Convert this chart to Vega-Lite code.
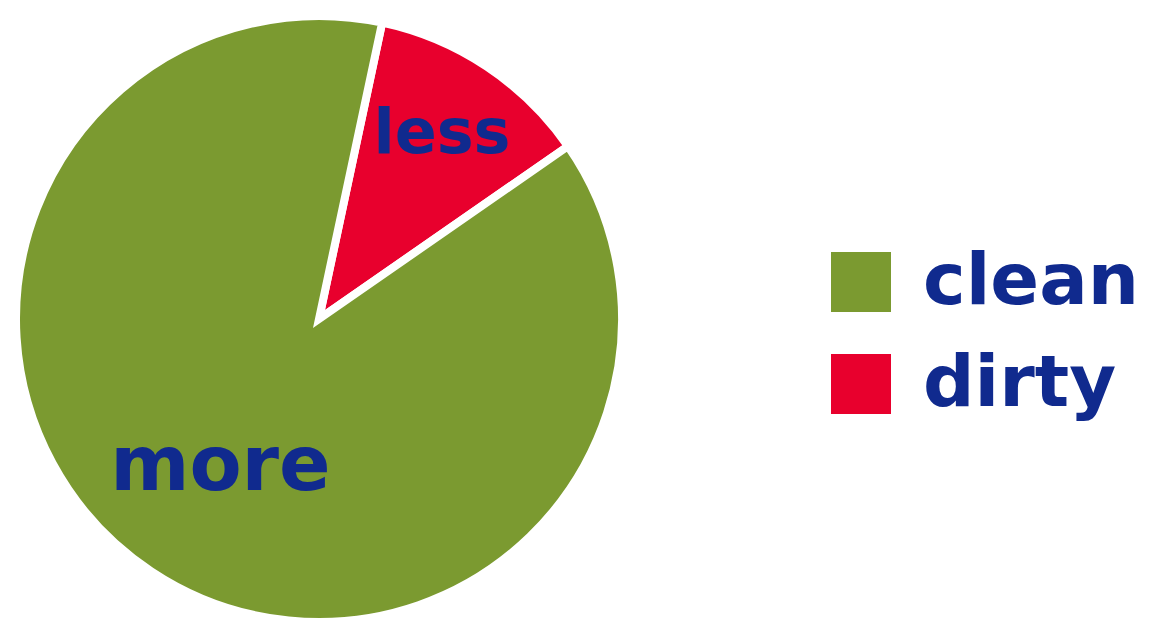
{
  "$schema": "https://vega.github.io/schema/vega-lite/v6.json",
  "width": 632,
  "height": 636,
  "padding": 0,
  "autosize": {"type": "pad"},
  "background": "white",
  "view": {"stroke": null},
  "data": {"values": [
    {"category": "dirty", "share": 12, "label": "less", "order": 1},
    {"category": "clean", "share": 88, "label": "more", "order": 2}
  ]},
  "encoding": {
    "theta": {"field": "share", "type": "quantitative", "stack": true, "scale": {"range": [0.21, 6.4932]}},
    "order": {"field": "order", "type": "quantitative"}
  },
  "layer": [
    {
      "mark": {"type": "arc", "outerRadius": 303, "stroke": "white", "strokeWidth": 8},
      "encoding": {
        "color": {
          "field": "category", "type": "nominal",
          "scale": {"domain": ["clean", "dirty"], "range": ["#7b9a30", "#e8002d"]},
          "legend": {
            "title": null,
            "orient": "none",
            "legendX": 822,
            "legendY": 245,
            "symbolType": "square",
            "symbolSize": 3600,
            "symbolStrokeWidth": 0,
            "labelFont": "DejaVu Sans",
            "labelFontWeight": "bold",
            "labelFontSize": 72,
            "labelLimit": 500,
            "labelColor": "#102a8e",
            "labelOffset": 26,
            "rowPadding": 30
          }
        }
      }
    },
    {
      "mark": {"type": "text", "radius": 222, "font": "DejaVu Sans", "fontWeight": "bold", "fontSize": 62, "color": "#102a8e"},
      "encoding": {"text": {"condition": {"test": "datum.category === 'dirty'", "field": "label"}, "value": ""}}
    },
    {
      "mark": {"type": "text", "radius": 178, "font": "DejaVu Sans", "fontWeight": "bold", "fontSize": 76, "color": "#102a8e"},
      "encoding": {"text": {"condition": {"test": "datum.category === 'clean'", "field": "label"}, "value": ""}}
    }
  ]
}
